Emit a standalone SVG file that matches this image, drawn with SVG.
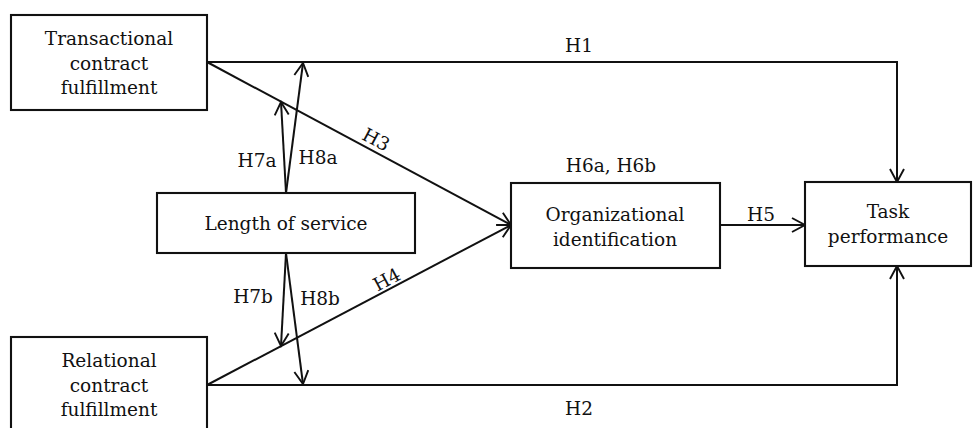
<svg xmlns="http://www.w3.org/2000/svg" width="976" height="428" viewBox="0 0 976 428">
<style>
.box{fill:#fff;stroke:#111;stroke-width:2.1}
.t{font-family:"DejaVu Serif","Liberation Serif",serif;font-size:18.5px;fill:#111;text-anchor:middle}
.c{fill:none;stroke:#111;stroke-width:2}
</style>
<defs>
<marker id="ah" markerWidth="16" markerHeight="16" refX="14" refY="8" orient="auto" markerUnits="userSpaceOnUse">
<path d="M1,1 L14,8 L1,15" fill="none" stroke="#111" stroke-width="1.9"/>
</marker>
</defs>
<rect width="976" height="428" fill="#fff"/>
<g id="connectors">
<path class="c" d="M207,62 H897 V182" marker-end="url(#ah)"/>
<path class="c" d="M207,385 H897 V266" marker-end="url(#ah)"/>
<path class="c" d="M207,62 L511,225" marker-end="url(#ah)"/>
<path class="c" d="M207,385 L511,225" marker-end="url(#ah)"/>
<path class="c" d="M720,225 L805,225" marker-end="url(#ah)"/>
<path class="c" d="M286,193 L281,102" marker-end="url(#ah)"/>
<path class="c" d="M286,193 L303,63" marker-end="url(#ah)"/>
<path class="c" d="M286,253 L281,346" marker-end="url(#ah)"/>
<path class="c" d="M286,253 L303,384" marker-end="url(#ah)"/>
<text class="t" x="579" y="52">H1</text>
<text class="t" x="579" y="415">H2</text>
<text class="t" transform="translate(376,140) rotate(28)" y="6">H3</text>
<text class="t" transform="translate(387,280) rotate(-28)" y="6">H4</text>
<text class="t" x="761" y="221">H5</text>
<text class="t" x="611" y="172">H6a, H6b</text>
<text class="t" x="257" y="167">H7a</text>
<text class="t" x="318" y="164">H8a</text>
<text class="t" x="253" y="303">H7b</text>
<text class="t" x="320" y="305">H8b</text>
</g>
<g id="transactional">
<rect class="box" x="11" y="15" width="196" height="95"/>
<text class="t" x="109" y="45">Transactional</text>
<text class="t" x="109" y="70">contract</text>
<text class="t" x="109" y="94">fulfillment</text>
</g>
<g id="relational">
<rect class="box" x="11" y="337" width="196" height="100"/>
<text class="t" x="109" y="367">Relational</text>
<text class="t" x="109" y="392">contract</text>
<text class="t" x="109" y="416">fulfillment</text>
</g>
<g id="length">
<rect class="box" x="157" y="193" width="258" height="60"/>
<text class="t" x="286" y="230">Length of service</text>
</g>
<g id="orgid">
<rect class="box" x="511" y="183" width="209" height="85"/>
<text class="t" x="615" y="221">Organizational</text>
<text class="t" x="615" y="246">identification</text>
</g>
<g id="task">
<rect class="box" x="805" y="182" width="166" height="84"/>
<text class="t" x="888" y="218">Task</text>
<text class="t" x="888" y="243">performance</text>
</g>
</svg>
